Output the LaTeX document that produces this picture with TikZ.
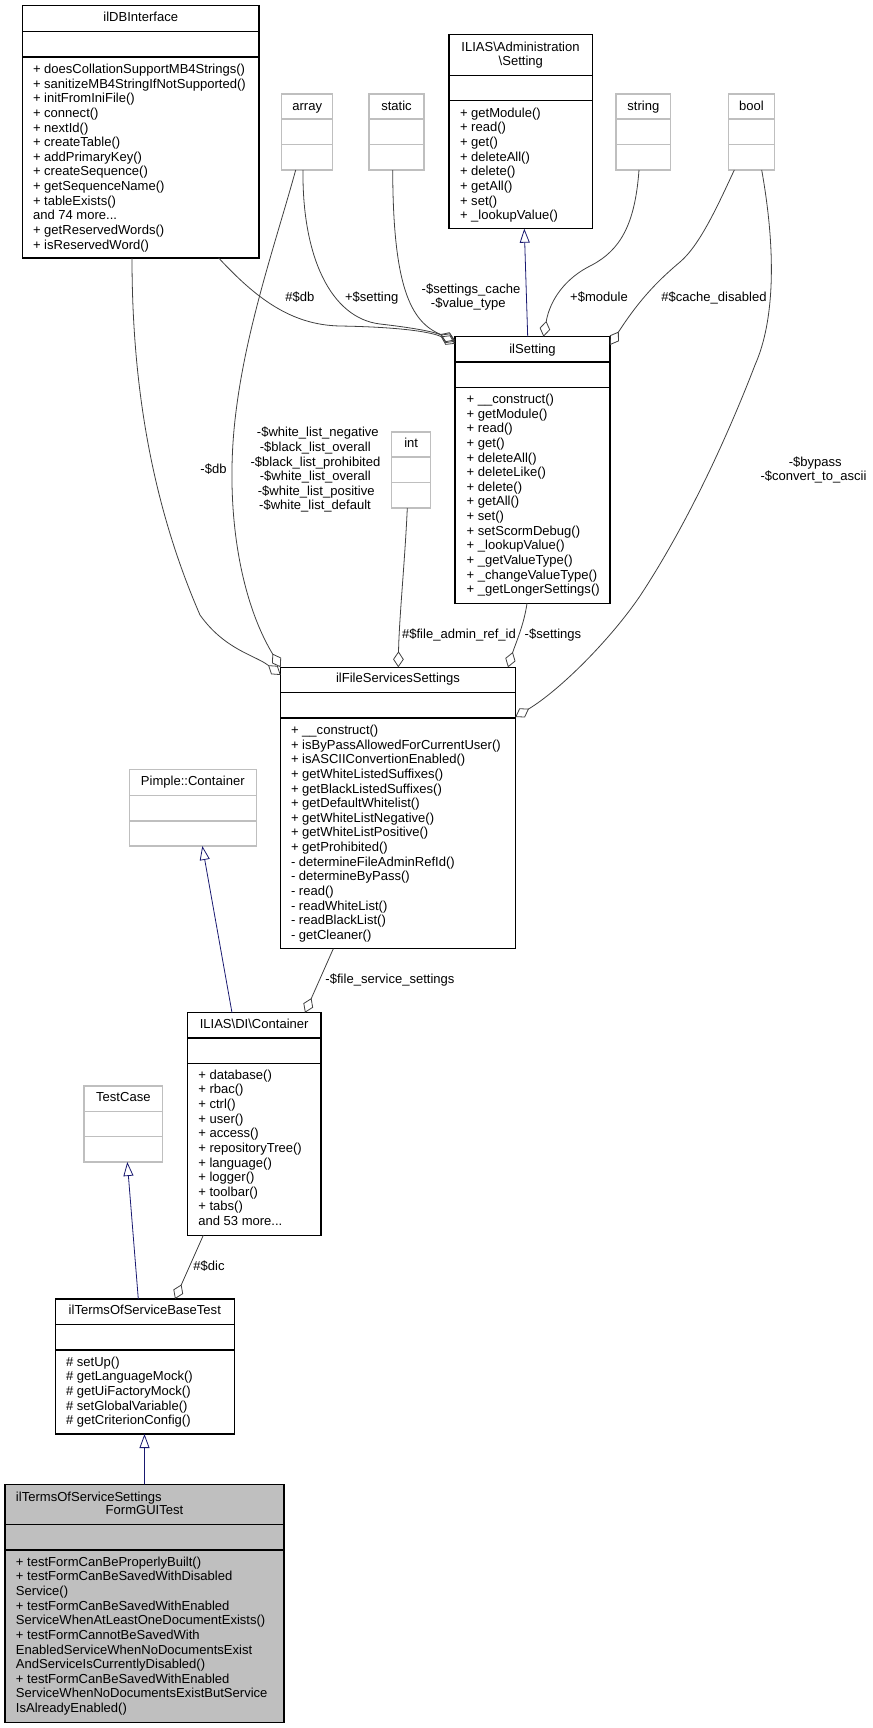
\documentclass[tikz,border=0pt]{standalone}
\usepackage{fontspec}
\setmainfont{Liberation Sans}
\usetikzlibrary{arrows.meta,calc}
\definecolor{edgegray}{HTML}{404040}
\definecolor{navy}{HTML}{191970}
\definecolor{boxgray}{HTML}{BFBFBF}
\tikzset{
 mtext/.style={inner sep=0pt, outer sep=0pt, font=\fontsize{9.78pt}{10.98pt}\selectfont, text=black},
 cbox/.style={draw=black, line width=0.8pt, inner sep=0pt, outer sep=0pt, rectangle},
 gbox/.style={draw=boxgray, line width=0.8pt, inner sep=0pt, outer sep=0pt, rectangle},
 fbox/.style={draw=black, fill=boxgray, line width=0.8pt, inner sep=0pt, outer sep=0pt, rectangle},
 agg/.style={draw=edgegray, line width=0.6pt, -{Diamond[open, length=12pt, width=8pt]}},
 inh/.style={draw=navy, line width=0.6pt, -{Triangle[open, length=10.5pt, width=7.5pt]}},
}
\newcommand\umlbox[9]{%
 \node[#2, minimum width={(#6-#4)*0.75pt}, minimum height={(#7-#5)*0.75pt}, anchor=north west] (#1) at (#4,#5) {};
 \draw[#3, line width=0.8pt] (#4,#8) -- (#6,#8) (#4,#9) -- (#6,#9);
}
\newcommand\mlines[4]{\foreach \mt [count=\mi] in {#4} {\node[mtext, anchor=base west] (#1\mi) at (#2,{#3+4.5+(\mi-1)*14.64}) {\mt};}}
\begin{document}
\begin{tikzpicture}[x=0.75pt,y=-0.75pt]
\useasboundingbox (0,0) rectangle (873,1728);

% boxes
\umlbox{dbi}{cbox}{black}{22.5}{5.5}{259}{258}{31.5}{57}
\umlbox{array}{gbox}{boxgray}{281.7}{94}{332.7}{170}{119}{144.7}
\umlbox{static}{gbox}{boxgray}{369}{94}{424}{170}{119}{144.7}
\umlbox{admin}{cbox}{black}{449}{34.7}{592.3}{228.7}{75.3}{100.7}
\umlbox{string}{gbox}{boxgray}{616}{94}{670.7}{170}{119}{144.7}
\umlbox{bool}{gbox}{boxgray}{728.3}{94}{774.7}{170}{119}{144.7}
\umlbox{ils}{cbox}{black}{455}{336.7}{610}{603.3}{362}{387.3}
\umlbox{int}{gbox}{boxgray}{391.7}{432}{430.7}{508}{457}{482.3}
\umlbox{fss}{cbox}{black}{280.7}{667.3}{515.3}{948.7}{692.7}{718}
\umlbox{pimple}{gbox}{boxgray}{129.3}{769.7}{256.3}{846}{795.3}{821}
\umlbox{dic}{cbox}{black}{187.3}{1012.7}{321}{1235.3}{1038}{1063.3}
\umlbox{testcase}{gbox}{boxgray}{84}{1086}{162.7}{1162}{1111.3}{1136.7}
\umlbox{base}{cbox}{black}{55.3}{1299}{234.3}{1434}{1324.3}{1350}
\umlbox{form}{fbox}{black}{5}{1484.3}{284}{1722.3}{1524.7}{1550}

% titles
\node[mtext, anchor=base] (dbiT) at (140.75,21.8) {ilDBInterface};
\node[mtext, anchor=base] (arrayT) at (307.2,110.5) {array};
\node[mtext, anchor=base] (staticT) at (396.5,110.5) {static};
\node[mtext, anchor=base] (adminT1) at (520.5,51.2) {ILIAS\textbackslash Administration};
\node[mtext, anchor=base] (adminT2) at (520.8,65.8) {\textbackslash Setting};
\node[mtext, anchor=base] (stringT) at (643.35,110.5) {string};
\node[mtext, anchor=base] (boolT) at (751.5,110.5) {bool};
\node[mtext, anchor=base] (ilsT) at (532.5,353.2) {ilSetting};
\node[mtext, anchor=base] (intT) at (411.2,447.8) {int};
\node[mtext, anchor=base] (fssT) at (398,682.8) {ilFileServicesSettings};
\node[mtext, anchor=base] (pimpleT) at (192.8,785.8) {Pimple::Container};
\node[mtext, anchor=base] (dicT) at (254.15,1028.8) {ILIAS\textbackslash DI\textbackslash Container};
\node[mtext, anchor=base] (testcaseT) at (123.35,1101.8) {TestCase};
\node[mtext, anchor=base] (baseT) at (144.8,1314.8) {ilTermsOfServiceBaseTest};
\node[mtext, anchor=base west] (formT1) at (16,1501.2) {ilTermsOfServiceSettings};
\node[mtext, anchor=base] (formT2) at (144.5,1514.8) {FormGUITest};

% members
\mlines{dbiM}{33}{69}{+ doesCollationSupportMB4Strings(),+ sanitizeMB4StringIfNotSupported(),+ initFromIniFile(),+ connect(),+ nextId(),+ createTable(),+ addPrimaryKey(),+ createSequence(),+ getSequenceName(),+ tableExists(),and 74 more.{}.{}.,+ getReservedWords(),+ isReservedWord()}
\mlines{adminM}{460}{112.7}{+ getModule(),+ read(),+ get(),+ deleteAll(),+ delete(),+ getAll(),+ set(),+ \_lookupValue()}
\mlines{ilsM}{466.7}{399}{+ \_\_construct(),+ getModule(),+ read(),+ get(),+ deleteAll(),+ deleteLike(),+ delete(),+ getAll(),+ set(),+ setScormDebug(),+ \_lookupValue(),+ \_getValueType(),+ \_changeValueType(),+ \_getLongerSettings()}
\mlines{fssM}{291}{730}{+ \_\_construct(),+ isByPassAllowedForCurrentUser(),+ isASCIIConvertionEnabled(),+ getWhiteListedSuffixes(),+ getBlackListedSuffixes(),+ getDefaultWhitelist(),+ getWhiteListNegative(),+ getWhiteListPositive(),+ getProhibited(),- determineFileAdminRefId(),- determineByPass(),- read(),- readWhiteList(),- readBlackList(),- getCleaner()}
\mlines{dicM}{198.3}{1074.7}{+ database(),+ rbac(),+ ctrl(),+ user(),+ access(),+ repositoryTree(),+ language(),+ logger(),+ toolbar(),+ tabs(),and 53 more.{}.{}.}
\mlines{baseM}{66}{1361.7}{\# setUp(),\# getLanguageMock(),\# getUiFactoryMock(),\# setGlobalVariable(),\# getCriterionConfig()}
\mlines{formM}{16}{1561.7}{+ testFormCanBeProperlyBuilt(),+ testFormCanBeSavedWithDisabled,Service(),+ testFormCanBeSavedWithEnabled,ServiceWhenAtLeastOneDocumentExists(),+ testFormCannotBeSavedWith,EnabledServiceWhenNoDocumentsExist,AndServiceIsCurrentlyDisabled(),+ testFormCanBeSavedWithEnabled,ServiceWhenNoDocumentsExistButService,IsAlreadyEnabled()}

% inheritance
\draw[inh] ($(ils.north west)+(72.7,0)$) -- ($(admin.south west)+(75.3,0)$);
\draw[inh] ($(dic.north west)+(44.7,0)$) -- ($(pimple.south west)+(73,0)$);
\draw[inh] ($(base.north west)+(83,0)$) -- ($(testcase.south west)+(43.3,0)$);
\draw[inh] ($(form.north west)+(139.5,0)$) -- ($(base.south west)+(89.2,0)$);

% aggregation
\draw[agg] ($(dbi.south west)+(196.2,0)$) .. controls (255,297) and (290,325) .. (340,326) .. controls (400,327) and (432,332) .. ($(ils.north west)+(0,7)$);
\draw[agg] ($(array.south west)+(21.3,0)$) .. controls (302,255) and (330,318) .. (380,324) .. controls (415,328) and (435,332) .. ($(ils.north west)+(0,5)$);
\draw[agg] ($(static.south west)+(23.7,0)$) .. controls (393,285) and (410,322) .. ($(ils.north west)+(0,3.5)$);
\draw[agg] ($(string.south west)+(23,0)$) .. controls (635,225) and (620,250) .. (592,265) .. controls (565,278) and (550,300) .. ($(ils.north west)+(88.5,0)$);
\draw[agg] ($(bool.south west)+(6,0)$) .. controls (718,205) and (700,245) .. (680,262) .. controls (655,283) and (638,302) .. ($(ils.north east)+(0,8.3)$);
\draw[agg] ($(bool.south west)+(33.4,0)$) .. controls (776,250) and (775,320) .. (755,365) .. controls (730,430) and (690,520) .. (640,596) .. controls (610,640) and (560,690) .. ($(fss.north east)+(0,49.7)$);
\draw[agg] ($(dbi.south west)+(109.5,0)$) .. controls (132,380) and (150,500) .. (200,615) .. controls (225,650) and (255,655) .. ($(fss.north west)+(0,7.7)$);
\draw[agg] ($(array.south west)+(14,0)$) .. controls (275,245) and (245,330) .. (235,420) .. controls (225,510) and (240,600) .. (fss.north west);
\draw[agg] ($(int.south west)+(15.6,0)$) .. controls (405,560) and (399,620) .. ($(fss.north west)+(117.6,0)$);
\draw[agg] ($(ils.south west)+(72,0)$) .. controls (524,625) and (515,645) .. ($(fss.north west)+(227.3,0)$);
\draw[agg] ($(fss.south west)+(52.6,0)$) -- ($(dic.north west)+(117.7,0)$);
\draw[agg] ($(dic.south west)+(16,0)$) -- ($(base.north west)+(119.7,0)$);

% edge labels
\node[mtext, anchor=base] (lbA) at (300,301.2) {\#\$db};
\node[mtext, anchor=base] (lbB) at (371.7,301.2) {+\$setting};
\node[mtext, anchor=base] (lbC1) at (471,293.2) {-\$settings\_cache};
\node[mtext, anchor=base] (lbC2) at (468.3,307.8) {-\$value\_type};
\node[mtext, anchor=base] (lbD) at (599,301.2) {+\$module};
\node[mtext, anchor=base] (lbE) at (714,301.2) {\#\$cache\_disabled};
\node[mtext, anchor=base] (lbF) at (213.5,473.2) {-\$db};
\node[mtext, anchor=base] (lbG1) at (317.8,436.8) {-\$white\_list\_negative};
\node[mtext, anchor=base] (lbG2) at (315.3,451.4) {-\$black\_list\_overall};
\node[mtext, anchor=base] (lbG3) at (315.5,466.0) {-\$black\_list\_prohibited};
\node[mtext, anchor=base] (lbG4) at (315.3,480.6) {-\$white\_list\_overall};
\node[mtext, anchor=base] (lbG5) at (316.2,495.2) {-\$white\_list\_positive};
\node[mtext, anchor=base] (lbG6) at (315,509.8) {-\$white\_list\_default};
\node[mtext, anchor=base] (lbH) at (459,638.5) {\#\$file\_admin\_ref\_id};
\node[mtext, anchor=base] (lbI) at (553,638.5) {-\$settings};
\node[mtext, anchor=base] (lbJ1) at (815.2,466.2) {-\$bypass};
\node[mtext, anchor=base] (lbJ2) at (813.5,480.8) {-\$convert\_to\_ascii};
\node[mtext, anchor=base] (lbK) at (390,983.8) {-\$file\_service\_settings};
\node[mtext, anchor=base] (lbL) at (209,1270.8) {\#\$dic};
\end{tikzpicture}
\end{document}
